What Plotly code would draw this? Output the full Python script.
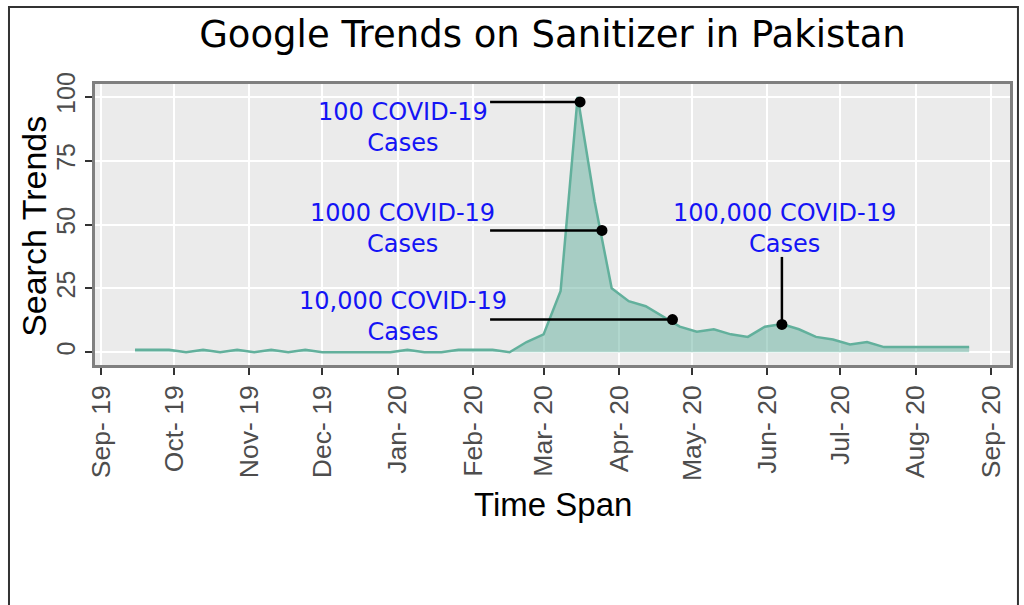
import pandas as pd
import plotly.graph_objects as go

# ---- data -------------------------------------------------------------
week_start = "2019-09-15"
n_weeks = 50
dates = pd.date_range(week_start, periods=n_weeks, freq="7D")
search_trends = [1, 1, 1, 0, 1, 0, 1, 0, 1, 0,
                 1, 0, 0, 0, 0, 0, 1, 0, 0, 1,
                 1, 1, 0, 4, 7, 24, 100, 59, 25, 20,
                 18, 14, 10, 8, 9, 7, 6, 10, 11, 9,
                 6, 5, 3, 4, 2, 2, 2, 2, 2, 2]

month_ticks = ["2019-09-01", "2019-10-01", "2019-11-01", "2019-12-01",
               "2020-01-01", "2020-02-01", "2020-03-01", "2020-04-01",
               "2020-05-01", "2020-06-01", "2020-07-01", "2020-08-01",
               "2020-09-01"]
month_labels = ["Sep- 19", "Oct- 19", "Nov- 19", "Dec- 19", "Jan- 20",
                "Feb- 20", "Mar- 20", "Apr- 20", "May- 20", "Jun- 20",
                "Jul- 20", "Aug- 20", "Sep- 20"]
y_ticks = [0, 25, 50, 75, 100]

# milestones
case_labels = ["100 COVID-19<br>Cases", "1000 COVID-19<br>Cases",
               "10,000 COVID-19<br>Cases", "100,000 COVID-19<br>Cases"]
case_dates = ["2020-03-16", "2020-03-25", "2020-04-23", "2020-06-07"]
case_values = [98, 47.7, 12.8, 10.9]
label_dates = ["2020-01-03", "2020-01-03", "2020-01-03", "2020-06-08"]
label_values = [88, 48.3, 14, 48.3]
leader_start_date = "2020-02-08"
vertical_leader_top = 37.3

# ---- figure -----------------------------------------------------------
fig = go.Figure()
fig.add_trace(go.Scatter(
    x=dates, y=search_trends, mode="lines",
    line=dict(color="#62b09c", width=2.5),
    fill="tozeroy", fillcolor="rgba(105,179,162,0.52)",
    hoverinfo="x+y", showlegend=False))

# leader lines
for i in range(3):
    fig.add_trace(go.Scatter(
        x=[leader_start_date, case_dates[i]], y=[case_values[i], case_values[i]],
        mode="lines", line=dict(color="black", width=2.5),
        showlegend=False, hoverinfo="skip"))
fig.add_trace(go.Scatter(
    x=[case_dates[3], case_dates[3]], y=[vertical_leader_top, case_values[3]],
    mode="lines", line=dict(color="black", width=2.5),
    showlegend=False, hoverinfo="skip"))
fig.add_trace(go.Scatter(
    x=case_dates, y=case_values, mode="markers",
    marker=dict(color="black", size=11), showlegend=False))

for lab, xd, yv in zip(case_labels, label_dates, label_values):
    fig.add_annotation(x=xd, y=yv, xref="x", yref="y", text=lab,
                       showarrow=False, align="center",
                       font=dict(family="DejaVu Sans", size=24, color="#1414F5"))

# axis titles
fig.add_annotation(text="Time Span", xref="paper", yref="paper",
                   x=0.5, y=-0.498, xanchor="center", yanchor="middle",
                   showarrow=False,
                   font=dict(family="Liberation Sans", size=33, color="black"))
fig.add_annotation(text="Search Trends", xref="paper", yref="paper",
                   x=-0.0667, y=0.495, xanchor="center", yanchor="middle",
                   textangle=-90, showarrow=False,
                   font=dict(family="Liberation Sans", size=34, color="black"))

# outer frame
fig.add_shape(type="rect", xref="paper", yref="paper",
              x0=-0.094, x1=1.0087, y0=-0.9, y1=1.274,
              line=dict(color="#333333", width=2), layer="above")

axis_common = dict(
    showgrid=True, gridcolor="white", gridwidth=1.5,
    zeroline=False, showline=True, mirror=True,
    linecolor="#7f7f7f", linewidth=2.5,
    ticks="outside", ticklen=7, tickwidth=1.5, tickcolor="#333333",
    automargin=False,
)

fig.update_layout(
    width=1024, height=605, autosize=False,
    margin=dict(l=95, r=14, t=84, b=240),
    paper_bgcolor="white", plot_bgcolor="#EBEBEB",
    title=dict(text="Google Trends on Sanitizer in Pakistan",
               x=0.5, xref="paper", y=1 - 34 / 605, yref="container",
               xanchor="center", yanchor="middle", automargin=False,
               font=dict(family="DejaVu Sans", size=37, color="black")),
    xaxis=dict(type="date",
               range=["2019-08-29 13:00", "2020-09-08 19:00"],
               tickmode="array", tickvals=month_ticks, ticktext=month_labels,
               tickangle=-90,
               tickfont=dict(family="Liberation Sans", size=26.5, color="#4D4D4D"),
               **axis_common),
    yaxis=dict(range=[-5, 105], tickmode="array", tickvals=y_ticks,
               tickangle=-90,
               tickfont=dict(family="Liberation Sans", size=25, color="#4D4D4D"),
               **axis_common),
)

fig.write_html("out.html",
               config={"displayModeBar": False},
               post_script="document.body.style.margin='0';"
                           "document.body.style.overflow='hidden';")
